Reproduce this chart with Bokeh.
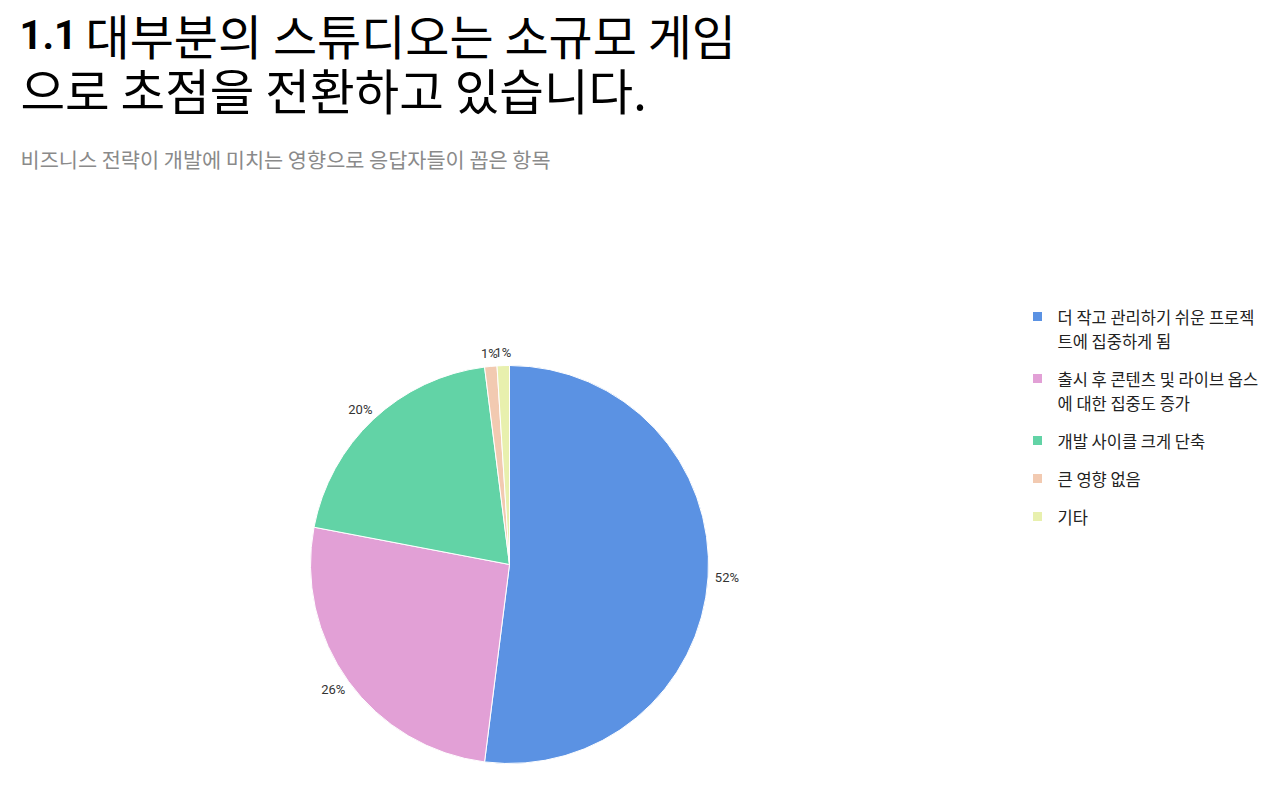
import math
from bokeh.plotting import figure
from bokeh.models import Range1d, ColumnDataSource
from bokeh.core.properties import value
from bokeh.embed import file_html
from bokeh.resources import INLINE

# ---- data ----
categories = [
    "더 작고 관리하기 쉬운 프로젝\n트에 집중하게 됨",
    "출시 후 콘텐츠 및 라이브 옵스\n에 대한 집중도 증가",
    "개발 사이클 크게 단축",
    "큰 영향 없음",
    "기타",
]
shares = [52, 26, 20, 1, 1]
colors = ["#5B92E3", "#E2A0D6", "#62D3A6", "#F2CAB1", "#E8F0AE"]
title_bold = "1.1"
title_line1 = "대부분의 스튜디오는 소규모 게임"
title_line2 = "으로 초점을 전환하고 있습니다."
subtitle = "비즈니스 전략이 개발에 미치는 영향으로 응답자들이 꼽은 항목"

# ---- layout (screen-pixel coordinates, y measured from top) ----
W, H = 1264, 773
p = figure(width=W, height=H, output_backend="svg", toolbar_location=None,
           x_range=Range1d(0, W), y_range=Range1d(0, H),
           min_border=0, outline_line_color=None)
p.axis.visible = False
p.grid.visible = False
p.background_fill_color = "white"
p.border_fill_color = "white"

def Y(sy):
    return H - sy

KR = "'Noto Sans CJK KR', 'Noto Sans', sans-serif"

# title
p.text(x=[19], y=[Y(34)], text=[title_bold], text_font=value("'Roboto', sans-serif"),
       text_font_style="bold", text_font_size="40px", text_color="#000000",
       text_baseline="middle", text_align="left")
p.text(x=[85], y=[Y(33)], text=[title_line1], text_font=value(KR),
       text_font_size="48px", text_color="#000000", text_baseline="middle", text_align="left")
p.text(x=[20], y=[Y(88)], text=[title_line2], text_font=value(KR),
       text_font_size="48.5px", text_color="#000000", text_baseline="middle", text_align="left")
p.text(x=[20], y=[Y(158)], text=[subtitle], text_font=value(KR),
       text_font_size="20.8px", text_color="#8a8a8a", text_baseline="middle", text_align="left")

# pie
cx, cy, r = 509, 564, 199
fs = 13
total = float(sum(shares))
starts, ends, lx, ly, ltxt = [], [], [], [], []
cum = 0.0
for v in shares:
    a0 = math.pi / 2 - 2 * math.pi * cum / total
    a1 = math.pi / 2 - 2 * math.pi * (cum + v) / total
    starts.append(a0)
    ends.append(a1)
    mid = (a0 + a1) / 2
    dx, dy = math.cos(mid), math.sin(mid)
    t = f"{v}%"
    hw = 0.33 * fs * len(t)
    hh = 0.55 * fs
    rl = r + 6
    lx.append(cx + rl * dx + hw * dx)
    ly.append(Y(cy) + rl * dy + hh * dy)
    ltxt.append(t)
    cum += v

src = ColumnDataSource(dict(start=starts, end=ends, color=colors))
p.wedge(x=cx, y=Y(cy), radius=r, start_angle="start", end_angle="end",
        direction="clock", fill_color="color", line_color="white", line_width=1,
        source=src)

lsrc = ColumnDataSource(dict(x=lx, y=ly, t=ltxt))
p.text(x="x", y="y", text="t", text_align="center", text_baseline="middle",
       text_font=value("Roboto"), text_font_size=f"{fs}px", text_color="#333333",
       source=lsrc)

# legend
sy = 316
for cat, col in zip(categories, colors):
    lines = cat.split("\n")
    p.rect(x=[1037], y=[Y(sy)], width=9, height=9, fill_color=col, line_color=None)
    for i, ln in enumerate(lines):
        p.text(x=[1057], y=[Y(sy + 24 * i)], text=[ln], text_font=value(KR),
               text_font_size="16.5px", text_color="#222222",
               text_baseline="middle", text_align="left")
    sy += 24 * (len(lines) - 1) + 38

open("out.html", "w").write(file_html(p, INLINE))
